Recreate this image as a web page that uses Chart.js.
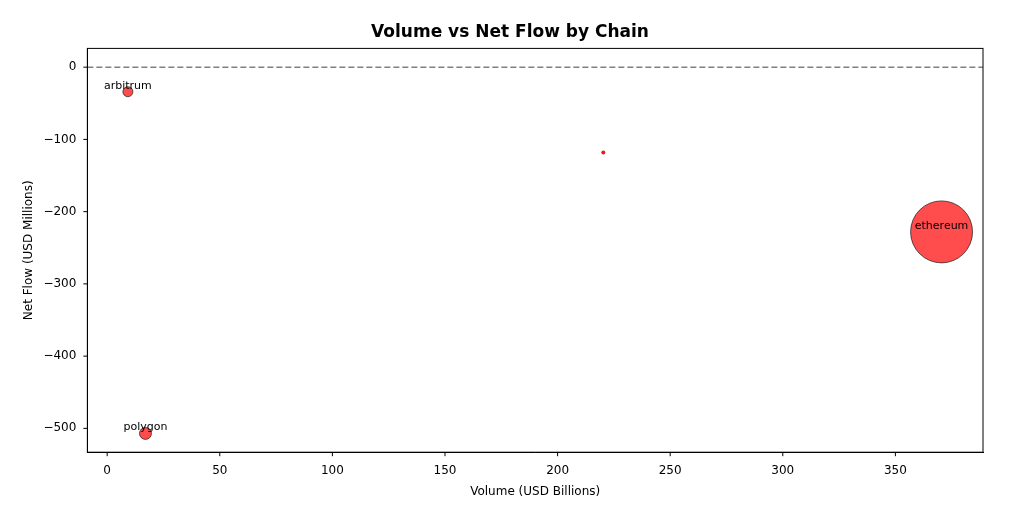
<!DOCTYPE html>
<html><head><meta charset="utf-8">
<script src="https://cdn.jsdelivr.net/npm/chart.js@4"></script>
<style>body{margin:0;background:#fff}#w{width:1015px;height:513px}</style>
</head><body><div id="w"><canvas id="c"></canvas></div>
<script>
const chains = ["arbitrum", "", "ethereum", "polygon"];
const volume = [9.2, 220.3, 370.5, 17];
const netFlow = [-34, -118, -228, -507];
const radii = [5, 2, 31, 6];
const xTicks = [0,50,100,150,200,250,300,350];
const yTicks = [0,-100,-200,-300,-400,-500];

const extras = {
  id:'extras',
  afterDatasetsDraw(ch){
    const {ctx,scales:{x,y},chartArea:a}=ch;
    ctx.save();
    ctx.strokeStyle='#808080';ctx.lineWidth=1.5;ctx.setLineDash([6,3]);
    ctx.beginPath();ctx.moveTo(a.left,y.getPixelForValue(0));ctx.lineTo(a.right,y.getPixelForValue(0));ctx.stroke();
    ctx.setLineDash([]);
    ctx.fillStyle='#000';ctx.font='11px "DejaVu Sans"';ctx.textAlign='center';ctx.textBaseline='middle';
    chains.forEach((n,i)=>{ if(n) ctx.fillText(n,x.getPixelForValue(volume[i]),y.getPixelForValue(netFlow[i])-6);});
    ctx.strokeStyle='#000';ctx.lineWidth=1;ctx.strokeRect(a.left,a.top,a.right-a.left,a.bottom-a.top);
    ctx.beginPath();
    xTicks.forEach(v=>{const p=x.getPixelForValue(v);ctx.moveTo(p,a.bottom);ctx.lineTo(p,a.bottom+4);});
    yTicks.forEach(v=>{const p=y.getPixelForValue(v);ctx.moveTo(a.left,p);ctx.lineTo(a.left-4,p);});
    ctx.stroke();
    ctx.restore();
  }
};
new Chart(document.getElementById('c'),{
  type:'bubble',
  data:{datasets:[{data:volume.map((v,i)=>({x:v,y:netFlow[i],r:radii[i]})),
    backgroundColor:chains.map(n=>n?'rgba(255,0,0,0.7)':'rgba(230,0,0,0.9)'),
    borderColor:chains.map(n=>n?'rgba(0,0,0,0.6)':'rgba(0,0,0,0)'),borderWidth:1}]},
  options:{responsive:true,maintainAspectRatio:false,animation:false,
    layout:{padding:{left:18,right:13,top:8,bottom:10}},
    plugins:{legend:{display:false},tooltip:{enabled:false},
      title:{display:true,text:'Volume vs Net Flow by Chain',color:'#000',font:{family:'DejaVu Sans',size:17,weight:'bold'},padding:{top:14,bottom:6}}},
    scales:{
      x:{type:'linear',min:-8.8,max:388.9,
        afterBuildTicks:s=>{s.ticks=xTicks.map(v=>({value:v}));},
        ticks:{color:'#000',font:{family:'DejaVu Sans',size:12},callback:v=>v},
        grid:{display:false},border:{color:'#000'},
        title:{display:true,text:'Volume (USD Billions)',color:'#000',font:{family:'DejaVu Sans',size:12}}},
      y:{type:'linear',min:-533,max:26,
        afterBuildTicks:s=>{s.ticks=yTicks.map(v=>({value:v}));},
        ticks:{color:'#000',font:{family:'DejaVu Sans',size:12},callback:v=>v<0?'\u2212'+(-v):v},
        grid:{display:false},border:{color:'#000'},
        title:{display:true,text:'Net Flow (USD Millions)',color:'#000',font:{family:'DejaVu Sans',size:12}}}
    }},
  plugins:[extras]
});
</script></body></html>
